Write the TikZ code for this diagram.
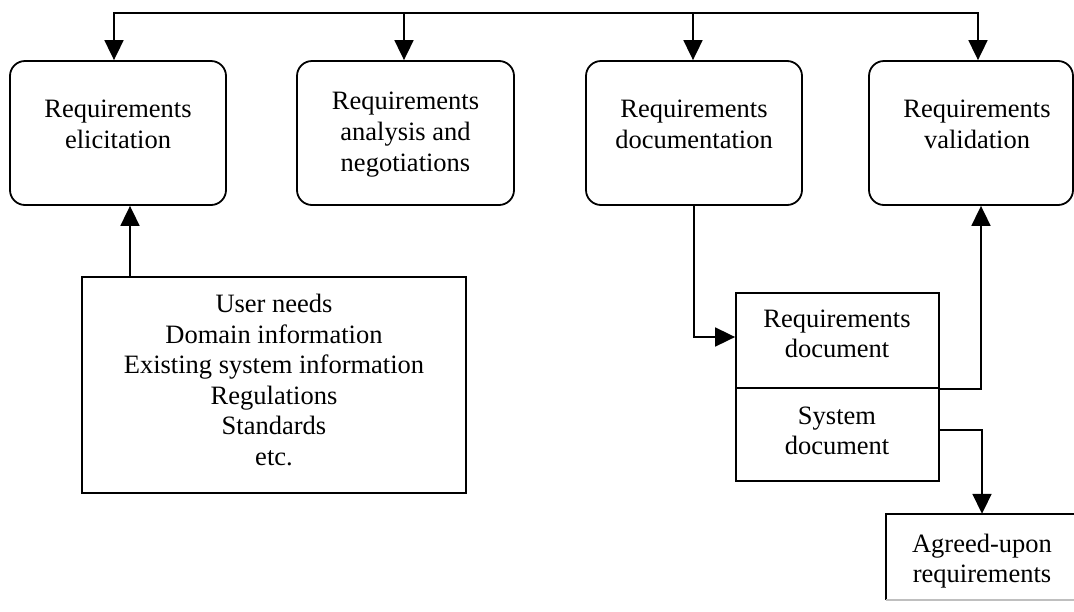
\documentclass[tikz,border=0pt]{standalone}
\usepackage{fontspec}
\setmainfont{Liberation Serif}
\usetikzlibrary{arrows.meta}
\newcommand\boxfont{\fontsize{26.5}{30.6}\selectfont}
\begin{document}
\begin{tikzpicture}[x=1pt,y=-1pt,
  stage/.style={draw, line width=1.8pt, rounded corners=15pt, inner sep=0pt,
                minimum height=144pt},
  item/.style={draw, line width=1.8pt, inner sep=0pt},
  txt/.style={align=center, inner sep=0pt, font=\boxfont},
  wire/.style={line width=1.8pt},
  link/.style={line width=1.8pt, -{Triangle[length=20pt,width=19pt]}}]
\useasboundingbox (0,0) rectangle (1074,611);
\begin{scope}
\clip (0,0) rectangle (1074,611);

% process stages
\node[stage, minimum width=216pt] (elic) at (118,133) {};
\node[stage, minimum width=217pt] (anal) at (405.5,133) {};
\node[stage, minimum width=216pt] (docu) at (694,133) {};
\node[stage, minimum width=204pt] (vali) at (971,133) {};
\node[txt] (elicT) at (118,124.5) {Requirements\\elicitation};
\node[txt] (analT) at (405.5,134.5) {Requirements\\analysis and\\negotiations};
\node[txt] (docuT) at (694,124.5) {Requirements\\documentation};
\node[txt] (valiT) at (977,124.5) {Requirements\\validation};

% inputs
\node[item, minimum width=384pt, minimum height=216pt] (inp) at (274,385) {};
\node[txt] (inpT) at (274,380) {User needs\\Domain information\\Existing system information\\Regulations\\Standards\\etc.};

% documents
\node[item, minimum width=203pt, minimum height=95pt] (rdoc) at (837.5,340.5) {};
\node[item, minimum width=203pt, minimum height=93pt] (sdoc) at (837.5,434.5) {};
\node[txt] (rdocT) at (837,334) {Requirements\\document};
\node[txt] (sdocT) at (837,431) {System\\document};

% outcome
\node[inner sep=0pt, minimum width=192pt, minimum height=86pt] (agr) at (982,557) {};
\draw[wire] (agr.south west) -- (agr.north west) -- (agr.north east) -- (agr.south east);
\draw[line width=1.8pt, black!25] (agr.south west) -- (agr.south east);
\node[txt] (agrT) at (982,561) {Agreed-upon\\requirements};

% feedback bus along the top
\coordinate (bus1) at (114,13);
\coordinate (bus2) at (404,13);
\coordinate (bus3) at (693,13);
\coordinate (bus4) at (978,13);
\draw[wire] (bus2) -- (bus3);
\draw[link] (bus2) -- (bus1) -- (bus1 |- elic.north);
\draw[link] (bus2) -- (bus2 |- anal.north);
\draw[link] (bus3) -- (bus3 |- docu.north);
\draw[link] (bus3) -- (bus4) -- (bus4 |- vali.north);

% flows between stages and documents
\draw[link] (130,0 |- inp.north) -- (130,0 |- elic.south);
\draw[link] (694,0 |- docu.south) |- ([yshift=3.5pt]rdoc.west);
\draw[link] (rdoc.south east) -| (981,0 |- vali.south);
\draw[link] ([yshift=4.5pt]sdoc.east) -| (agr.north);
\end{scope}
\end{tikzpicture}
\end{document}
